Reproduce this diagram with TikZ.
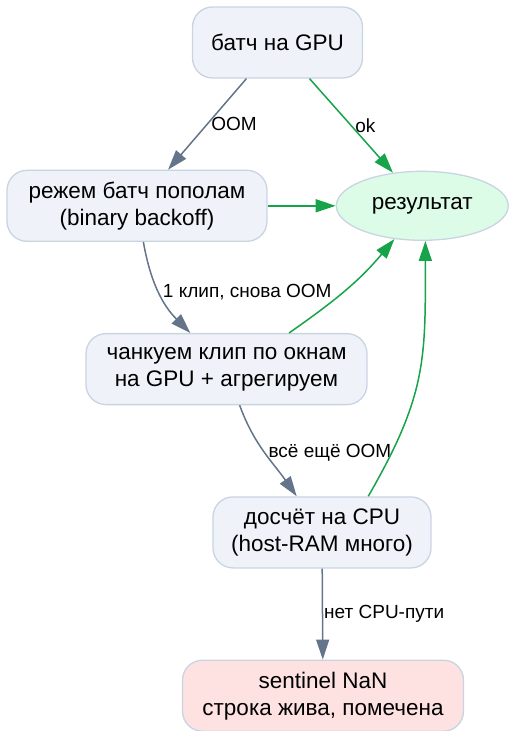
\documentclass[tikz,border=0pt]{standalone}
\usepackage{fontspec}
\setmainfont{Liberation Sans}
\usepackage{xcolor}
\usetikzlibrary{arrows.meta,positioning,shapes.geometric}

\definecolor{boxfill}{HTML}{EFF3F9}
\definecolor{boxline}{HTML}{C9D4E2}
\definecolor{okfill}{HTML}{DCFCE7}
\definecolor{nanfill}{HTML}{FEE2E2}
\definecolor{oomgray}{HTML}{64748B}
\definecolor{okgreen}{HTML}{16A34A}

\begin{document}
\begin{tikzpicture}[
  block/.style={rounded corners=20pt, draw=boxline, line width=1.3pt, fill=boxfill, align=center, minimum height=71pt, font=\fontsize{22.5}{27}\selectfont},
  outcome/.style={ellipse, draw=boxline, line width=1.3pt, fill=okfill, minimum width=172pt, minimum height=69pt, inner sep=0pt, font=\fontsize{22.5}{27}\selectfont},
  fallback/.style={block, fill=nanfill},
  down/.style={-{Triangle[length=20pt,width=13pt]}, line width=1.5pt, draw=oomgray},
  up/.style={-{Triangle[length=20pt,width=13pt]}, line width=1.5pt, draw=okgreen},
  tag/.style={font=\fontsize{19}{23}\selectfont, text=black}
]
\useasboundingbox (-277.5pt,42.5pt) rectangle (236.5pt,-688.5pt);

\node[block, minimum width=170pt] (top) {батч на GPU};
\node[block, minimum width=260pt, below=91pt of top, xshift=-140.5pt] (cut) {режем батч пополам\\(binary backoff)};
\node[outcome, right=68pt of cut] (result) {результат};
\node[block, minimum width=281pt, below=91pt of cut, xshift=89.5pt] (chunk) {чанкуем клип по окнам\\на GPU + агрегируем};
\node[block, minimum width=218pt, below=91pt of chunk, xshift=95.5pt] (cpu) {досчёт на CPU\\(host-RAM много)};
\node[fallback, minimum width=281pt, below=91pt of cpu, xshift=1pt] (nan) {sentinel NaN\\строка жива, помечена};

\draw[down] (top) -- node[tag, right] {OOM} (cut);
\draw[up] (top) -- node[tag, right] {ok} (result);
\draw[up] (cut) -- (result);
\draw[down] (cut) to[out=-80, in=135] node[tag, right, pos=0.5] {1 клип, снова OOM} (chunk);
\draw[up] (chunk.30) to[out=35, in=-130] (result);
\draw[down] (chunk) to[out=-70, in=125] node[tag, right] {всё ещё OOM} (cpu);
\draw[up] (cpu.38) to[out=60, in=-90, looseness=1.15] (result.-85);
\draw[down] (cpu) -- node[tag, right, inner sep=1pt] {нет CPU-пути} (nan);
\end{tikzpicture}
\end{document}
